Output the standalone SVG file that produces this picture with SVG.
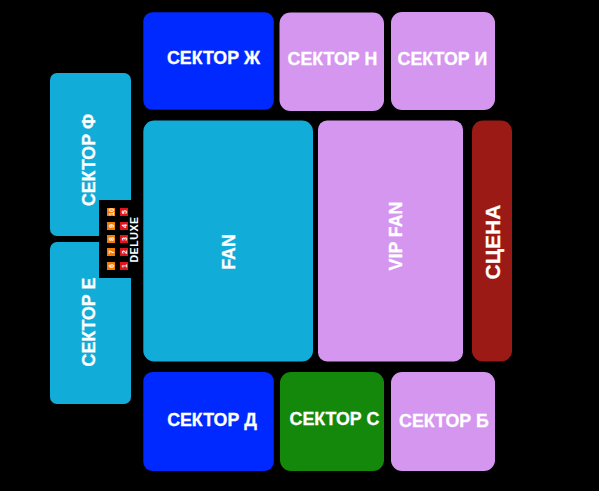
<svg xmlns="http://www.w3.org/2000/svg" width="599" height="491" viewBox="0 0 599 491">
<style>
text{font-family:"Liberation Sans",Arial,sans-serif;font-weight:700;fill:#fff;stroke:#fff;stroke-width:.3;text-anchor:middle}
.l{font-size:17.800px}
.blue{fill:#0029ff}.lil{fill:#d596f0}.cy{fill:#12acd9}.red{fill:#9c1a16}.gr{fill:#14880a}
.o{fill:#f57c00}.r{fill:#e0141e}
.n{font-size:7px;stroke-width:0}
</style>
<rect width="599" height="491" fill="#000"/>
<g id="sector-zh"><rect class="blue" x="143.300" y="12.300" width="130.500" height="97.500" rx="9"/><text class="l" x="213.500" y="63.500">СЕКТОР Ж</text></g>
<g id="sector-n"><rect class="lil" x="279.500" y="12.500" width="104.500" height="98.500" rx="11"/><text class="l" x="332.500" y="65">СЕКТОР Н</text></g>
<g id="sector-i"><rect class="lil" x="391" y="12" width="104" height="98" rx="11"/><text class="l" x="442.500" y="65">СЕКТОР И</text></g>
<g id="sector-f"><rect class="cy" x="50" y="73" width="81" height="163" rx="7"/><text class="l" transform="translate(95 160) rotate(-90)">СЕКТОР Ф</text></g>
<g id="sector-e"><rect class="cy" x="50" y="242" width="81" height="162" rx="7"/><text class="l" transform="translate(95 322) rotate(-90)">СЕКТОР Е</text></g>
<g id="fan"><rect class="cy" x="143.300" y="120.500" width="169.700" height="241" rx="11"/><text class="l" transform="translate(235 252) rotate(-90)">FAN</text></g>
<g id="vip-fan"><rect class="lil" x="318" y="120.500" width="145" height="241" rx="9"/><text class="l" transform="translate(402 236) rotate(-90)">VIP FAN</text></g>
<g id="scena"><rect class="red" x="472" y="120.500" width="40" height="241" rx="11"/><text transform="translate(499.500 242) rotate(-90)" font-size="21">СЦЕНА</text></g>
<g id="sector-d"><rect class="blue" x="143.300" y="372" width="130.500" height="99" rx="9"/><text class="l" x="212" y="426">СЕКТОР Д</text></g>
<g id="sector-s"><rect class="gr" x="280" y="372" width="104" height="99" rx="11"/><text class="l" x="334.500" y="425">СЕКТОР С</text></g>
<g id="sector-b"><rect class="lil" x="391" y="372" width="104" height="99" rx="11"/><text class="l" x="444" y="427">СЕКТОР Б</text></g>
<g id="deluxe"><rect x="99" y="200" width="44" height="78" fill="#000"/>
<text transform="translate(138 239.500) rotate(-90)" font-size="10.500" letter-spacing=".6" style="stroke-width:0">DELUXE</text>
<rect class="o" x="107" y="208" width="8" height="8"/><rect class="o" x="107" y="222" width="8" height="8"/><rect class="o" x="107" y="235" width="8" height="8"/><rect class="o" x="107" y="248" width="8" height="8"/><rect class="o" x="107" y="262" width="8" height="8"/>
<rect class="r" x="120" y="208" width="8" height="8"/><rect class="r" x="120" y="222" width="8" height="8"/><rect class="r" x="120" y="235" width="8" height="8"/><rect class="r" x="120" y="248" width="8" height="8"/><rect class="r" x="120" y="262" width="8" height="8"/>
<text class="n" transform="translate(113.500 212) rotate(-90)">10</text><text class="n" transform="translate(113.500 226) rotate(-90)">9</text><text class="n" transform="translate(113.500 239) rotate(-90)">8</text><text class="n" transform="translate(113.500 252) rotate(-90)">7</text><text class="n" transform="translate(113.500 266) rotate(-90)">6</text>
<text class="n" transform="translate(126.500 212) rotate(-90)">5</text><text class="n" transform="translate(126.500 226) rotate(-90)">4</text><text class="n" transform="translate(126.500 239) rotate(-90)">3</text><text class="n" transform="translate(126.500 252) rotate(-90)">2</text><text class="n" transform="translate(126.500 266) rotate(-90)">1</text>
</g>
</svg>
